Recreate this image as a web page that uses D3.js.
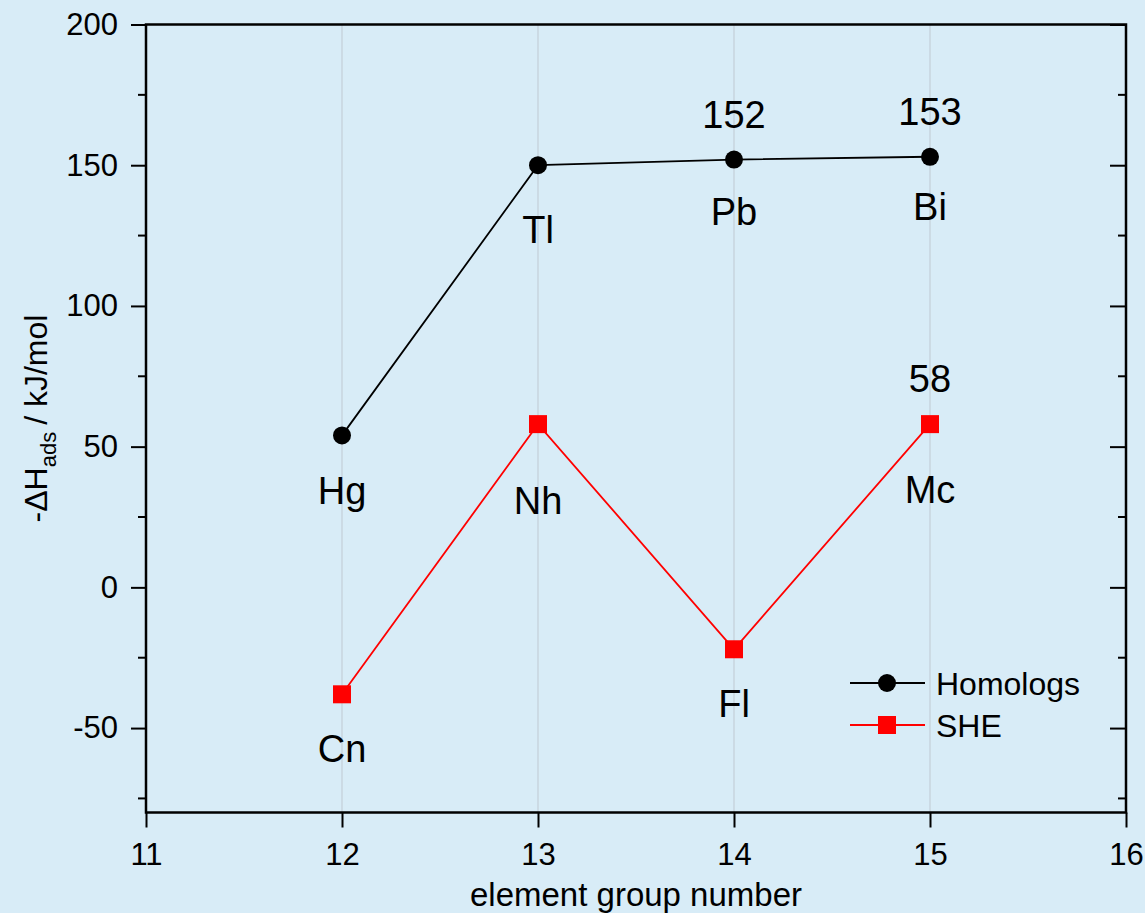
<!DOCTYPE html>
<html>
<head>
<meta charset="utf-8">
<script src="https://cdn.jsdelivr.net/npm/d3@7"></script>
<style>
  body { margin: 0; background: #d8ecf7; }
  svg { display: block; font-family: 'Liberation Sans', Arial, sans-serif; }
</style>
</head>
<body>
<svg id="svg-chart" width="1145" height="913"></svg>
<script>
//////////////////////////////////////////////////////////////////////////////////////////
// Data
//////////////////////////////////////////////////////////////////////////////////////////

var groups = [12, 13, 14, 15]
var homolog_values = [54, 150, 152, 153]
var she_values = [-38, 58, -22, 58]
var homolog_names = ['Hg', 'Tl', 'Pb', 'Bi']
var she_names = ['Cn', 'Nh', 'Fl', 'Mc']
var homolog_value_labels = ['', '', '152', '153']
var she_value_labels = ['', '', '', '58']
var x_ticks = [11, 12, 13, 14, 15, 16]
var y_ticks = [-50, 0, 50, 100, 150, 200]
var y_minor_ticks = [-75, -25, 25, 75, 125, 175]

// label offsets in pixels below the point (layout only)
var homolog_name_dy = [69, 78, 65, 63]
var she_name_dy = [68, 90, 68, 79]

//////////////////////////////////////////////////////////////////////////////////////////
// Scales
//////////////////////////////////////////////////////////////////////////////////////////

var plot = { left: 146, right: 1126, top: 24.5, bottom: 812.5 }

var x = d3.scaleLinear().domain([11, 16]).range([plot.left, plot.right])
var y = d3.scaleLinear().domain([-80, 200]).range([plot.bottom, plot.top])

var svg = d3.select('#svg-chart')

//////////////////////////////////////////////////////////////////////////////////////////
// Grid lines
//////////////////////////////////////////////////////////////////////////////////////////

svg.append('g')
  .selectAll('line')
  .data(groups)
  .join('line')
  .attr('x1', d => x(d))
  .attr('x2', d => x(d))
  .attr('y1', plot.top)
  .attr('y2', plot.bottom)
  .attr('stroke', '#bfc9d2')
  .attr('stroke-width', 1)

//////////////////////////////////////////////////////////////////////////////////////////
// Axes
//////////////////////////////////////////////////////////////////////////////////////////

draw_axes()

function draw_axes() {
  var tick_font = '31px'
  // plain hyphen for negatives, like the original
  var plain = d => String(d)

  // Bottom axis
  var x_axis = svg.append('g')
    .attr('transform', 'translate(0,' + plot.bottom + ')')
    .call(d3.axisBottom(x).tickValues(x_ticks).tickFormat(plain).tickSize(15).tickSizeOuter(0))
  x_axis.select('.domain').remove()
  x_axis.selectAll('line').attr('stroke', '#000').attr('stroke-width', 2)
  x_axis.selectAll('text')
    .attr('font-size', tick_font)
    .attr('font-family', "'Liberation Sans', Arial, sans-serif")
    .attr('fill', '#000')
    .attr('dy', null)
    .attr('y', 52)

  // Left axis
  var y_axis = svg.append('g')
    .attr('transform', 'translate(' + plot.left + ',0)')
    .call(d3.axisLeft(y).tickValues(y_ticks).tickFormat(plain).tickSize(15).tickSizeOuter(0))
  y_axis.select('.domain').remove()
  y_axis.selectAll('line').attr('stroke', '#000').attr('stroke-width', 2)
  y_axis.selectAll('text')
    .attr('font-size', tick_font)
    .attr('font-family', "'Liberation Sans', Arial, sans-serif")
    .attr('fill', '#000')
    .attr('x', -28)

  // Left minor ticks
  svg.append('g')
    .selectAll('line')
    .data(y_minor_ticks)
    .join('line')
    .attr('x1', plot.left - 8)
    .attr('x2', plot.left)
    .attr('y1', d => y(d))
    .attr('y2', d => y(d))
    .attr('stroke', '#000')
    .attr('stroke-width', 2)

  // Right ticks (inward)
  var y_right = svg.append('g')
    .attr('transform', 'translate(' + plot.right + ',0)')
    .call(d3.axisLeft(y).tickValues(y_ticks).tickSize(16).tickFormat('').tickSizeOuter(0))
  y_right.select('.domain').remove()
  y_right.selectAll('line').attr('stroke', '#000').attr('stroke-width', 2)

  svg.append('g')
    .selectAll('line')
    .data(y_minor_ticks)
    .join('line')
    .attr('x1', plot.right - 8)
    .attr('x2', plot.right)
    .attr('y1', d => y(d))
    .attr('y2', d => y(d))
    .attr('stroke', '#000')
    .attr('stroke-width', 2)

  // Frame
  svg.append('rect')
    .attr('x', plot.left)
    .attr('y', plot.top)
    .attr('width', plot.right - plot.left)
    .attr('height', plot.bottom - plot.top)
    .attr('fill', 'none')
    .attr('stroke', '#000')
    .attr('stroke-width', 2.5)

  // Axis titles
  svg.append('text')
    .attr('x', (plot.left + plot.right) / 2)
    .attr('y', 906)
    .attr('text-anchor', 'middle')
    .attr('font-size', '33px')
    .text('element group number')

  var y_title = svg.append('text')
    .attr('transform', 'translate(47,' + ((plot.top + plot.bottom) / 2) + ') rotate(-90)')
    .attr('text-anchor', 'middle')
    .attr('font-size', '32px')
  y_title.append('tspan').text('-ΔH')
  y_title.append('tspan').attr('font-size', '22px').attr('dy', 9).text('ads')
  y_title.append('tspan').attr('dy', -9).attr('dx', 7).text('/ kJ/mol')
}

//////////////////////////////////////////////////////////////////////////////////////////
// Series
//////////////////////////////////////////////////////////////////////////////////////////

var homolog_points = groups.map((g, i) => ({ g: g, v: homolog_values[i] }))
var she_points = groups.map((g, i) => ({ g: g, v: she_values[i] }))

var line = d3.line().x(d => x(d.g)).y(d => y(d.v))

svg.append('path')
  .datum(homolog_points)
  .attr('d', line)
  .attr('fill', 'none')
  .attr('stroke', '#000')
  .attr('stroke-width', 1.8)

svg.append('path')
  .datum(she_points)
  .attr('d', line)
  .attr('fill', 'none')
  .attr('stroke', '#ff0000')
  .attr('stroke-width', 1.8)

svg.append('g')
  .selectAll('circle')
  .data(homolog_points)
  .join('circle')
  .attr('cx', d => x(d.g))
  .attr('cy', d => y(d.v))
  .attr('r', 9)
  .attr('fill', '#000')

svg.append('g')
  .selectAll('rect')
  .data(she_points)
  .join('rect')
  .attr('x', d => x(d.g) - 9)
  .attr('y', d => y(d.v) - 9)
  .attr('width', 18)
  .attr('height', 18)
  .attr('fill', '#ff0000')

//////////////////////////////////////////////////////////////////////////////////////////
// Point labels
//////////////////////////////////////////////////////////////////////////////////////////

gen_point_labels(homolog_points, homolog_names, homolog_name_dy, homolog_value_labels)
gen_point_labels(she_points, she_names, she_name_dy, she_value_labels)

function gen_point_labels(points, names, name_dy, value_labels) {
  var g = svg.append('g').attr('font-size', '38px').attr('text-anchor', 'middle')

  g.selectAll('text.name')
    .data(points)
    .join('text')
    .attr('class', 'name')
    .attr('x', d => x(d.g))
    .attr('y', (d, i) => y(d.v) + name_dy[i])
    .text((d, i) => names[i])

  g.selectAll('text.value')
    .data(points)
    .join('text')
    .attr('class', 'value')
    .attr('x', d => x(d.g))
    .attr('y', d => y(d.v) - 32)
    .text((d, i) => value_labels[i])
}

//////////////////////////////////////////////////////////////////////////////////////////
// Legend
//////////////////////////////////////////////////////////////////////////////////////////

var legend_items = [
  { name: 'Homologs', color: '#000', shape: 'circle' },
  { name: 'SHE', color: '#ff0000', shape: 'square' }
]

var legend = svg.append('g').attr('transform', 'translate(850,683)')

legend_items.forEach(function(item, i) {
  var row = legend.append('g').attr('transform', 'translate(0,' + (i * 42) + ')')
  row.append('line')
    .attr('x1', 0).attr('x2', 75)
    .attr('stroke', item.color)
    .attr('stroke-width', 1.8)
  if (item.shape == 'circle') {
    row.append('circle').attr('cx', 37).attr('r', 9).attr('fill', item.color)
  } else {
    row.append('rect').attr('x', 28).attr('y', -9).attr('width', 18).attr('height', 18).attr('fill', item.color)
  }
  row.append('text')
    .attr('x', 86)
    .attr('y', 12)
    .attr('font-size', '32px')
    .text(item.name)
})
</script>
</body>
</html>
